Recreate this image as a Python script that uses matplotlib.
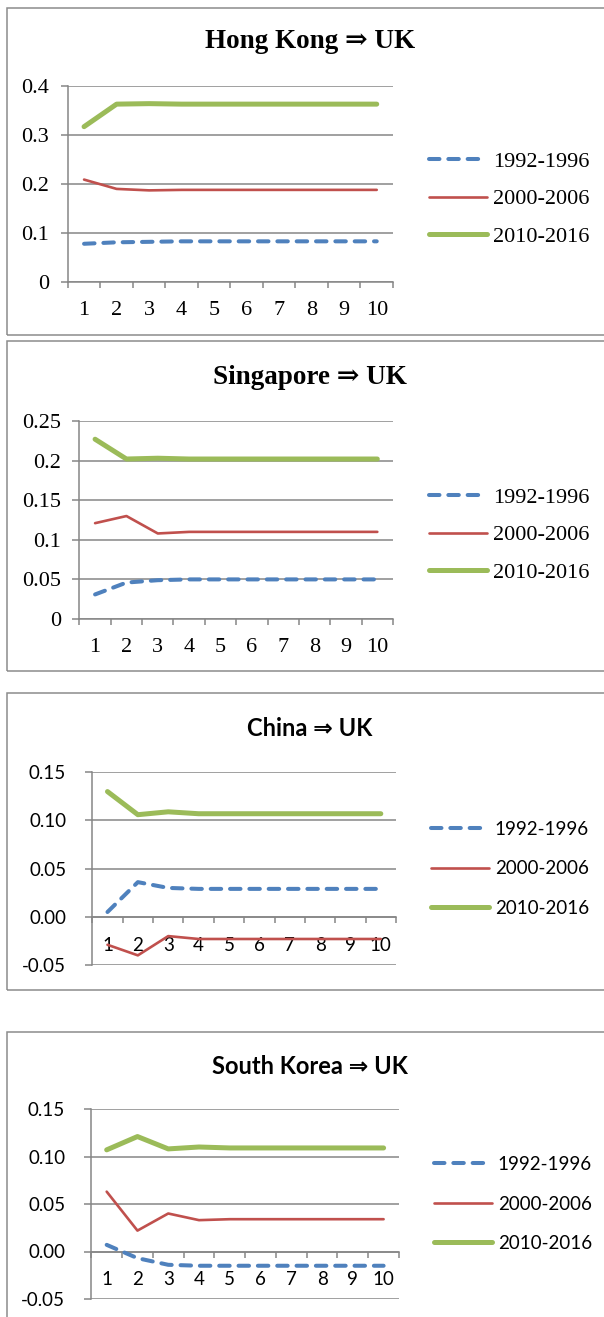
import matplotlib.pyplot as plt
from matplotlib.patches import Rectangle

# =========================
# DATA
# =========================

periods = ["1992-1996", "2000-2006", "2010-2016"]
horizon = [1, 2, 3, 4, 5, 6, 7, 8, 9, 10]

titles = [
    "Hong Kong \u21d2 UK",
    "Singapore \u21d2 UK",
    "China \u21d2 UK",
    "South Korea \u21d2 UK",
]

hk_1992 = [0.078, 0.081, 0.082, 0.083, 0.083, 0.083, 0.083, 0.083, 0.083, 0.083]
hk_2000 = [0.209, 0.190, 0.187, 0.188, 0.188, 0.188, 0.188, 0.188, 0.188, 0.188]
hk_2010 = [0.317, 0.363, 0.364, 0.363, 0.363, 0.363, 0.363, 0.363, 0.363, 0.363]

sg_1992 = [0.031, 0.046, 0.049, 0.050, 0.050, 0.050, 0.050, 0.050, 0.050, 0.050]
sg_2000 = [0.121, 0.130, 0.108, 0.110, 0.110, 0.110, 0.110, 0.110, 0.110, 0.110]
sg_2010 = [0.227, 0.202, 0.203, 0.202, 0.202, 0.202, 0.202, 0.202, 0.202, 0.202]

cn_1992 = [0.005, 0.036, 0.030, 0.029, 0.029, 0.029, 0.029, 0.029, 0.029, 0.029]
cn_2000 = [-0.029, -0.040, -0.020, -0.023, -0.023, -0.023, -0.023, -0.023, -0.023, -0.023]
cn_2010 = [0.130, 0.106, 0.109, 0.107, 0.107, 0.107, 0.107, 0.107, 0.107, 0.107]

kr_1992 = [0.007, -0.007, -0.014, -0.015, -0.015, -0.015, -0.015, -0.015, -0.015, -0.015]
kr_2000 = [0.063, 0.022, 0.040, 0.033, 0.034, 0.034, 0.034, 0.034, 0.034, 0.034]
kr_2010 = [0.107, 0.121, 0.108, 0.110, 0.109, 0.109, 0.109, 0.109, 0.109, 0.109]

hk_yticks = [0, 0.1, 0.2, 0.3, 0.4]
hk_ylabels = ["0", "0.1", "0.2", "0.3", "0.4"]
sg_yticks = [0, 0.05, 0.1, 0.15, 0.2, 0.25]
sg_ylabels = ["0", "0.05", "0.1", "0.15", "0.2", "0.25"]
low_yticks = [-0.05, 0, 0.05, 0.10, 0.15]
low_ylabels = ["-0.05", "0.00", "0.05", "0.10", "0.15"]

# =========================
# LAYOUT (pixels)
# =========================

W, H = 604, 1317
fig = plt.figure(figsize=(W / 100, H / 100), dpi=100)

colors = ["#4F81BD", "#C0504D", "#9BBB59"]
grid_col = "#868686"
serif = ["Liberation Serif", "DejaVu Serif"]
sans = ["Lato", "DejaVu Sans"]

panels = [
    dict(box=(67.8, 86, 393, 282), frame=(7, 7.7, 334.5), title_y=42,
         series=[hk_1992, hk_2000, hk_2010], yt=hk_yticks, yl=hk_ylabels,
         ylim=(0, 0.4), font=serif, fs=16, tfs=19.5, ypad=8.5, xpad=13.5,
         leg=(429, 199), ls=0.75, hl=2.6, low=False),
    dict(box=(79.4, 421, 393, 619), frame=(7, 341, 671), title_y=377,
         series=[sg_1992, sg_2000, sg_2010], yt=sg_yticks, yl=sg_ylabels,
         ylim=(0, 0.25), font=serif, fs=16, tfs=19.5, ypad=8.5, xpad=13.5,
         leg=(429, 535), ls=0.75, hl=2.6, low=False),
    dict(box=(92.3, 772.3, 396, 965), frame=(7, 693, 989.7), title_y=729,
         series=[cn_1992, cn_2000, cn_2010], yt=low_yticks, yl=low_ylabels,
         ylim=(-0.05, 0.15), font=sans, fs=13.5, tfs=17, ypad=14, xpad=14.5,
         leg=(431, 869), ls=1.2, hl=3.1, low=True),
    dict(box=(91.3, 1109, 399, 1299), frame=(7, 1032, 1330), title_y=1067,
         series=[kr_1992, kr_2000, kr_2010], yt=low_yticks, yl=low_ylabels,
         ylim=(-0.05, 0.15), font=sans, fs=13.5, tfs=17, ypad=14, xpad=14,
         leg=(434, 1204), ls=1.2, hl=3.1, low=True),
]

# =========================
# DRAW PANELS
# =========================

for p, title in zip(panels, titles):
    fx, fy0, fy1 = p["frame"]
    fig.patches.append(Rectangle(
        (fx / W, 1 - fy1 / H), (W + 20 - fx) / W, (fy1 - fy0) / H,
        transform=fig.transFigure, fill=False, edgecolor="#8C8C8C",
        linewidth=1.1, zorder=0))

    x0, y0, x1, y1 = p["box"]
    ax = fig.add_axes([x0 / W, 1 - y1 / H, (x1 - x0) / W, (y1 - y0) / H])

    # spines first: moving a spine resets the ticks
    for s in ["top", "right"]:
        ax.spines[s].set_visible(False)
    for s in ["left", "bottom"]:
        ax.spines[s].set_color(grid_col)
        ax.spines[s].set_linewidth(1.1)
    if p["low"]:
        ax.spines["bottom"].set_position(("data", 0))

    widths = [2.9, 1.9, 3.6]
    for i in range(3):
        if i == 0:
            ax.plot(horizon, p["series"][i], color=colors[i], lw=widths[i],
                    dashes=(2.6, 2.2), dash_capstyle="round",
                    label=periods[i], zorder=3)
        else:
            ax.plot(horizon, p["series"][i], color=colors[i], lw=widths[i],
                    solid_capstyle="round", solid_joinstyle="round",
                    label=periods[i], zorder=3 + i)

    ax.set_xlim(0.5, 10.5)
    ax.set_ylim(*p["ylim"])

    ax.set_yticks(p["yt"])
    ax.set_yticklabels(p["yl"], family=p["font"], fontsize=p["fs"])
    ax.yaxis.grid(True, color=grid_col, linewidth=1.1)
    ax.tick_params(axis="y", length=4.8, width=1.1, color=grid_col,
                   pad=p["ypad"])

    ax.set_xticks([h - 0.5 for h in horizon] + [10.5])
    ax.set_xticklabels([])
    ax.set_xticks(horizon, minor=True)
    ax.set_xticklabels([str(h) for h in horizon], minor=True,
                       family=p["font"], fontsize=p["fs"])
    ax.tick_params(axis="x", which="major", length=4.5, width=1.1,
                   color=grid_col, direction="out")
    ax.tick_params(axis="x", which="minor", length=0, pad=p["xpad"])
    ax.set_axisbelow(True)

    fig.text(310 / W, 1 - p["title_y"] / H, title, ha="center", va="center",
             family=p["font"], fontsize=p["tfs"], fontweight="bold")

    lx, ly = p["leg"]
    ax.legend(loc="center left", bbox_to_anchor=(lx / W, 1 - ly / H),
              bbox_transform=fig.transFigure, frameon=False,
              prop={"family": p["font"], "size": p["fs"]},
              handlelength=p["hl"], handletextpad=0.3, labelspacing=p["ls"],
              borderpad=0, borderaxespad=0)

plt.savefig("out.png", dpi=100)
